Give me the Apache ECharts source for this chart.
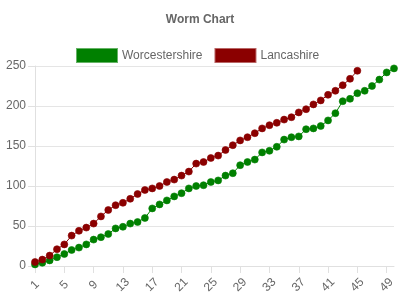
<!DOCTYPE html>
<html>
<head>
<meta charset="utf-8">
<script src="https://cdn.jsdelivr.net/npm/echarts@6/dist/echarts.min.js"></script>
<style>
  html, body { margin: 0; padding: 0; background: #fff; }
  #chart { width: 400px; height: 300px; }
</style>
</head>
<body>
<div id="chart"></div>
<script>
// overs 1..50
const overs = [];
for (let i = 1; i <= 50; i++) overs.push(String(i));

// cumulative runs per over
const worcestershire = [2, 4, 7, 11, 15, 20, 23, 27, 33, 36,
  40, 47, 49, 53, 55, 60, 72, 77, 82, 87,
  91, 97, 100, 101, 105, 107, 113, 116, 126, 130,
  133, 142, 144, 149, 158, 161, 162, 171, 172, 175,
  182, 191, 206, 209, 216, 219, 225, 233, 242, 247];

const lancashire = [5, 8, 13, 21, 27, 38, 44, 48, 53, 62,
  70, 76, 79, 84, 90, 95, 97, 100, 105, 108,
  113, 118, 128, 130, 135, 138, 145, 151, 157, 161,
  166, 172, 176, 179, 183, 186, 192, 196, 202, 207,
  214, 219, 226, 234, 244];

const textColor = '#666';
const font = 'Liberation Sans, Arial, sans-serif';

const chart = echarts.init(document.getElementById('chart'));
chart.setOption({
  animation: false,
  textStyle: { fontFamily: font },
  title: {
    text: 'Worm Chart',
    left: 'center',
    top: 9,
    textStyle: { fontSize: 12, fontWeight: 'bold', color: textColor, fontFamily: font }
  },
  legend: {
    top: 43,
    left: 71,
    itemWidth: 40,
    itemHeight: 13,
    itemGap: 12,
    icon: 'rect',
    textStyle: { fontSize: 12, color: textColor, fontFamily: font },
    data: ['Worcestershire', 'Lancashire']
  },
  grid: { left: 35, right: 6, top: 66, bottom: 34, containLabel: false },
  xAxis: {
    type: 'category',
    data: overs,
    boundaryGap: false,
    axisLine: { show: true, lineStyle: { color: '#e0e0e0' } },
    axisTick: { show: true, interval: 3, length: 7, lineStyle: { color: '#e0e0e0' } },
    axisLabel: {
      interval: 3, rotate: 45, color: textColor, fontSize: 12,
      margin: 19, align: 'center', verticalAlign: 'middle'
    },
    splitLine: { show: false }
  },
  yAxis: {
    type: 'value',
    min: 0,
    max: 250,
    interval: 50,
    axisLine: { show: true, lineStyle: { color: '#e0e0e0' } },
    axisTick: { show: true, length: 7, lineStyle: { color: '#e0e0e0' } },
    axisLabel: { color: textColor, fontSize: 12, margin: 9 },
    splitLine: { lineStyle: { color: '#e5e5e5' } }
  },
  series: [
    {
      name: 'Worcestershire',
      type: 'line',
      data: worcestershire,
      symbol: 'circle',
      symbolSize: 7,
      showAllSymbol: true,
      itemStyle: { color: '#008000', borderColor: 'rgba(0,128,0,0.6)', borderWidth: 1 },
      lineStyle: { width: 1, color: '#008000' }
    },
    {
      name: 'Lancashire',
      type: 'line',
      data: lancashire,
      symbol: 'circle',
      symbolSize: 7,
      showAllSymbol: true,
      itemStyle: { color: '#8b0000', borderColor: 'rgba(139,0,0,0.6)', borderWidth: 1 },
      lineStyle: { width: 1, color: '#8b0000' }
    }
  ]
});
</script>
</body>
</html>
